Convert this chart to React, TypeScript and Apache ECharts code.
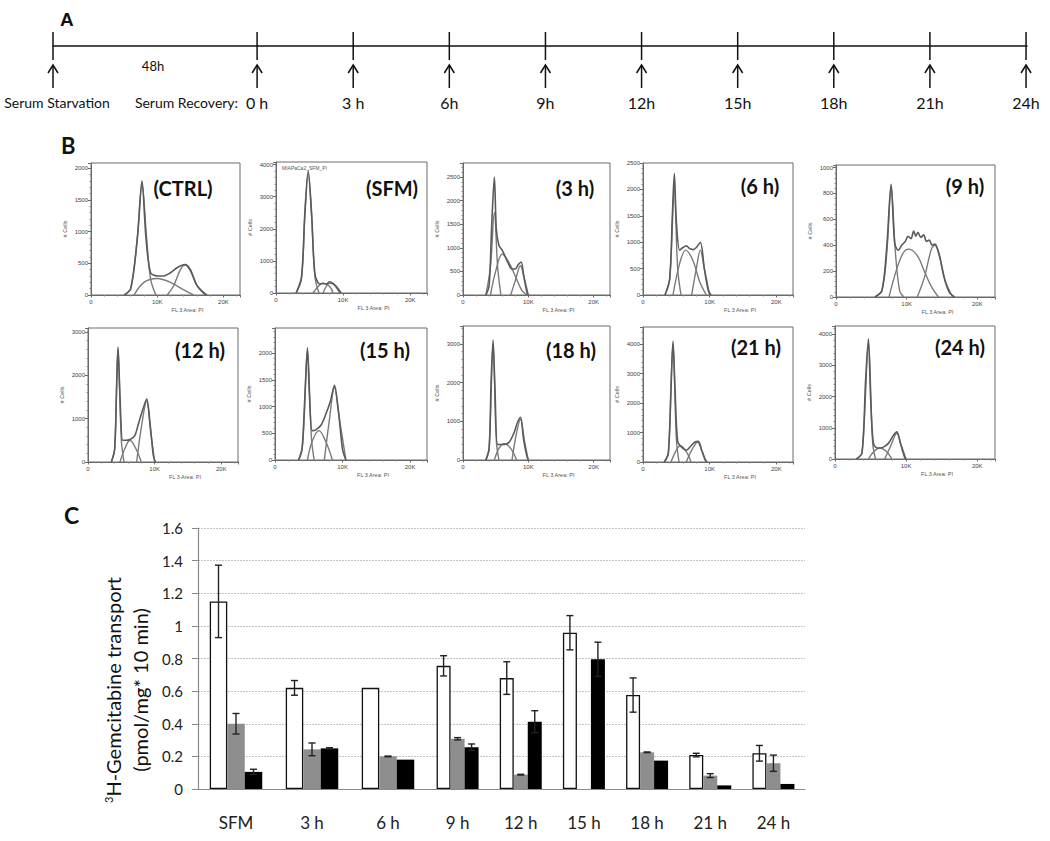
import React, { useEffect, useRef } from "react";
import * as echarts from "echarts";

// ---------------- Panel A : timeline ----------------
const timeHours = [0, 3, 6, 9, 12, 15, 18, 21, 24];
const timeLabels = ["0 h", "3 h", "6h", "9h", "12h", "15h", "18h", "21h", "24h"];
const starvationLabel = "Serum Starvation";
const recoveryLabel = "Serum Recovery:";
const starvationDuration = "48h";
const starvationAxisPos = -6.37; // schematic (compressed) start of the 48 h starvation

// ---------------- Panel B : DNA histograms ----------------
const panelNames = ["(CTRL)", "(SFM)", "(3 h)", "(6 h)", "(9 h)", "(12 h)", "(15 h)", "(18 h)", "(21 h)", "(24 h)"];
const yMaxes = [2080, 4080, 2800, 2500, 1020, 3090, 2470, 3460, 4580, 4260];
const yIntervals = [500, 1000, 500, 500, 200, 1000, 500, 1000, 1000, 1000];
const xTickLabels = ["0", "10K", "20K"];

const ctrlTotal = [[5,0],[6,100],[7,900],[7.7,1800],[8.3,900],[9,350],[10,300],[11,300],[12,350],[13,430],[14.2,480],[15,400],[16,150],[17,30],[17.5,0]];
const ctrlG1 = [[5,0],[6,100],[7,900],[7.7,1750],[8.4,900],[9,250],[9.8,0]];
const ctrlS = [[6.5,0],[8,200],[10,260],[12,200],[14,80],[15.5,0]];
const ctrlG2 = [[11.5,0],[12.5,150],[13.5,400],[14.2,470],[15,380],[16,150],[17.5,0]];

const sfmTotal = [[3,0],[3.8,500],[4.3,2500],[4.8,3800],[5.3,2500],[5.8,600],[6.5,280],[7,300],[7.5,280],[8,350],[8.5,300],[9,200],[9.7,0]];
const sfmG1 = [[3,0],[3.8,450],[4.3,2400],[4.8,3750],[5.3,2400],[5.8,500],[6.4,0]];
const sfmS = [[5.5,0],[6.5,250],[7,300],[8,200],[8.5,0]];
const sfmG2 = [[7,0],[8,300],[8.5,280],[9.5,0]];

const h3Total = [[3.5,0],[4,200],[4.4,1500],[4.8,2500],[5.1,1400],[5.5,1050],[6,950],[6.5,800],[7,650],[7.5,550],[8,550],[8.5,650],[8.9,700],[9.3,400],[9.8,50],[10,0]];
const h3G1 = [[3.5,0],[4.2,600],[4.8,1750],[5.3,600],[5.8,0]];
const h3S = [[4.2,0],[5,500],[6,870],[7,700],[8,400],[9,100],[9.8,0]];
const h3G2 = [[7.3,0],[8,300],[8.8,620],[9.3,400],[10,0]];

const h6Total = [[3.3,0],[4,300],[4.4,1500],[4.7,2300],[5,1400],[5.5,850],[6,900],[6.5,930],[7,880],[7.5,860],[8,900],[8.6,1000],[9.2,500],[9.8,80],[10.2,0]];
const h6G1 = [[3.3,0],[4,300],[4.7,2000],[5.2,500],[5.7,0]];
const h6S = [[4.5,0],[5.5,600],[6.4,850],[7.5,650],[8.5,250],[9.5,0]];
const h6G2 = [[7.3,0],[8,500],[8.6,850],[9.2,500],[10,0]];

const h9Total = [[5.5,0],[6.5,50],[7.2,400],[7.8,870],[8.3,420],[8.8,360],[9.3,400],[9.8,430],[10.2,470],[10.6,450],[11,510],[11.3,470],[11.6,500],[12,460],[12.4,480],[12.8,430],[13.2,440],[13.6,400],[14,410],[14.6,330],[15.3,150],[16,40],[16.8,0]];
const h9G1 = [[5.5,0],[6.5,50],[7.2,350],[7.8,850],[8.4,350],[9,50],[9.6,0]];
const h9S = [[7.5,0],[8.5,200],[9.5,340],[10.3,370],[11.5,320],[12.5,200],[13.5,80],[14.5,0]];
const h9G2 = [[11.5,0],[12.5,150],[13.5,370],[14,400],[14.7,300],[15.5,120],[16.5,0]];

const h12Total = [[3.5,0],[4,300],[4.3,1800],[4.5,2650],[4.8,1500],[5.2,500],[5.7,500],[6.3,520],[7,600],[7.6,900],[8.2,1200],[8.8,1450],[9.3,900],[9.8,150],[10.1,0]];
const h12G1 = [[3.5,0],[4,300],[4.5,2600],[5,500],[5.4,0]];
const h12S = [[4.8,0],[5.5,300],[6.3,500],[7.2,300],[8,0]];
const h12G2 = [[7.3,0],[8,800],[8.8,1400],[9.4,700],[10,0]];

const h15Total = [[3.5,0],[4,200],[4.5,1400],[4.8,2100],[5.1,1200],[5.5,550],[6,560],[6.8,650],[7.5,850],[8.2,1100],[8.8,1400],[9.4,900],[10,200],[10.5,0]];
const h15G1 = [[3.5,0],[4.1,300],[4.8,2050],[5.4,400],[5.8,0]];
const h15S = [[4.8,0],[5.5,350],[6.5,550],[7.5,350],[8.5,0]];
const h15G2 = [[7.3,0],[8,700],[8.8,1350],[9.5,800],[10.5,0]];

const h18Total = [[3.5,0],[4,300],[4.3,2000],[4.6,3100],[4.9,1800],[5.3,400],[6,400],[7,450],[7.8,700],[8.3,950],[8.8,1100],[9.3,500],[9.8,80],[10,0]];
const h18G1 = [[3.5,0],[4,300],[4.6,3000],[5.1,500],[5.5,0]];
const h18S = [[4.8,0],[5.5,300],[6.3,420],[7.3,300],[8.2,0]];
const h18G2 = [[7.5,0],[8.2,700],[8.8,1050],[9.4,500],[10,0]];

const h21Total = [[3.2,0],[3.8,300],[4.2,2500],[4.5,4100],[4.8,2500],[5.2,700],[5.8,500],[6.5,400],[7.2,550],[7.8,680],[8.3,700],[8.8,400],[9.3,80],[9.6,0]];
const h21G1 = [[3.2,0],[3.8,300],[4.5,4000],[5,800],[5.4,0]];
const h21S = [[4.2,0],[5,400],[5.6,550],[6.5,350],[7.2,0]];
const h21G2 = [[6.5,0],[7.3,400],[8.2,680],[8.8,400],[9.5,0]];

const h24Total = [[3,0],[3.8,200],[4.3,2500],[4.7,3850],[5,2000],[5.4,500],[6,350],[6.8,380],[7.5,500],[8.2,750],[8.7,870],[9.2,500],[9.8,50],[10,0]];
const h24G1 = [[3,0],[3.8,200],[4.7,3700],[5.3,500],[5.7,0]];
const h24S = [[4.7,0],[5.5,250],[6.3,350],[7.2,250],[8,0]];
const h24G2 = [[7,0],[7.8,400],[8.7,820],[9.3,450],[10,0]];

const histTotals = [ctrlTotal, sfmTotal, h3Total, h6Total, h9Total, h12Total, h15Total, h18Total, h21Total, h24Total];
const histG1 = [ctrlG1, sfmG1, h3G1, h6G1, h9G1, h12G1, h15G1, h18G1, h21G1, h24G1];
const histS = [ctrlS, sfmS, h3S, h6S, h9S, h12S, h15S, h18S, h21S, h24S];
const histG2 = [ctrlG2, sfmG2, h3G2, h6G2, h9G2, h12G2, h15G2, h18G2, h21G2, h24G2];

// ---------------- Panel C : transport bars ----------------
const categories = ["SFM", "3 h", "6 h", "9 h", "12 h", "15 h", "18 h", "21 h", "24 h"];
const whiteVals = [1.15, 0.62, 0.62, 0.755, 0.68, 0.958, 0.576, 0.208, 0.219];
const whiteErr = [0.222, 0.045, 0, 0.062, 0.1, 0.105, 0.105, 0.011, 0.048];
const grayVals = [0.4, 0.243, 0.2, 0.308, 0.088, null, 0.225, 0.082, 0.158];
const grayErr = [0.063, 0.039, 0.002, 0.007, 0.002, null, 0.002, 0.012, 0.05];
const blackVals = [0.105, 0.249, 0.18, 0.256, 0.413, 0.795, 0.174, 0.022, 0.031];
const blackErr = [0.016, 0.004, 0, 0.02, 0.067, 0.105, 0, 0, 0];
const yTicks = { min: 0, max: 1.6, interval: 0.2 };

// ---------------- layout (styles, not data) ----------------
const miniRects = [
  [91, 163, 149, 132], [276, 162, 151, 131], [463, 163, 147, 132], [643, 163, 150, 132], [836, 165, 159, 132],
  [88, 328, 150, 134], [275, 328, 152, 132], [463, 326, 147, 134], [643, 327, 150, 135], [835, 326, 160, 133],
];
const miniLabelPos = [
  [183, 188], [392, 188], [575, 188], [760, 186], [965, 186],
  [200, 350], [385, 350], [571, 350], [756, 347], [960, 347],
];
const X_MAX = 22.5;

export default function App() {
  const ref = useRef<HTMLDivElement>(null);
  useEffect(() => {
    if (!ref.current) return;
    const chart = echarts.init(ref.current, undefined, { renderer: "svg" });

    const grid: any[] = [];
    const xAxis: any[] = [];
    const yAxis: any[] = [];
    const series: any[] = [];
    const graphic: any[] = [];

    // ---- Panel A
    grid.push({ left: 53, top: 32, width: 974, height: 28 });
    xAxis.push({
      gridIndex: 0, type: "value", min: starvationAxisPos, max: 24.03,
      axisLine: { show: true, onZero: true, lineStyle: { color: "#111", width: 1.5 } },
      axisTick: { show: false }, axisLabel: { show: false }, splitLine: { show: false },
    });
    yAxis.push({ gridIndex: 0, type: "value", min: -1, max: 1, show: false });
    const tlData: any[] = [[starvationAxisPos, -1]].concat(timeHours.map((h, i) => [h, i]));
    series.push({
      type: "custom", xAxisIndex: 0, yAxisIndex: 0, data: tlData, silent: true,
      renderItem: (params: any, api: any) => {
        const x = api.value(0);
        const li = api.value(1);
        const top = api.coord([x, 1]);
        const bot = api.coord([x, -1]);
        const px = top[0];
        const stroke = { stroke: "#111", lineWidth: 1.5 };
        const children: any[] = [
          { type: "line", shape: { x1: px, y1: top[1], x2: px, y2: bot[1] }, style: stroke },
          { type: "line", shape: { x1: px, y1: bot[1] + 5, x2: px, y2: bot[1] + 28 }, style: stroke },
          { type: "polyline", shape: { points: [[px - 5, bot[1] + 13], [px, bot[1] + 5], [px + 5, bot[1] + 13]] }, style: { ...stroke, fill: null } },
        ];
        if (li < 0) {
          children.push({ type: "text", x: px + 4, y: bot[1] + 42, style: { text: starvationLabel, fontSize: 14, fontFamily: "Lato", fill: "#111", align: "center", verticalAlign: "middle" } });
          const mid = api.coord([starvationAxisPos / 2, -1]);
          children.push({ type: "text", x: mid[0] - 2, y: bot[1] + 6, style: { text: starvationDuration, fontSize: 13, fontFamily: "Lato", fill: "#111", align: "center", verticalAlign: "middle" } });
        } else {
          children.push({ type: "text", x: px, y: bot[1] + 42, style: { text: timeLabels[li], fontSize: 16, fontFamily: "Lato", fill: "#111", align: "center", verticalAlign: "middle" } });
          if (li === 0) {
            children.push({ type: "text", x: px - 19, y: bot[1] + 42, style: { text: recoveryLabel, fontSize: 14, fontFamily: "Lato", fill: "#111", align: "right", verticalAlign: "middle" } });
          }
        }
        return { type: "group", children };
      },
    });

    // ---- Panel B
    for (let i = 0; i < 10; i++) {
      const gi = i + 1;
      const [l, t, w, h] = miniRects[i];
      grid.push({ left: l, top: t, width: w, height: h, show: true, borderColor: "#6a6a6a", borderWidth: 1, backgroundColor: "transparent" });
      const interval = yIntervals[i];
      xAxis.push({
        gridIndex: gi, type: "value", min: 0, max: X_MAX, interval: 10,
        axisLine: { lineStyle: { color: "#6a6a6a" } },
        axisTick: { show: true, length: 2.5, lineStyle: { color: "#6a6a6a" } },
        minorTick: { show: true, splitNumber: 5, length: 1.5, lineStyle: { color: "#888" } },
        splitLine: { show: false },
        axisLabel: {
          fontSize: 6, color: "#444", margin: 4, fontFamily: "Liberation Sans",
          formatter: (v: number) => (Math.abs(v % 10) < 1e-6 ? xTickLabels[Math.round(v / 10)] || "" : ""),
        },
        name: "FL 3 Area: PI", nameLocation: "middle", nameGap: 12,
        nameTextStyle: { fontSize: 5.5, color: "#555", fontFamily: "Liberation Sans", padding: [0, 0, 0, 44] },
      });
      yAxis.push({
        gridIndex: gi, type: "value", min: 0, max: yMaxes[i], interval,
        axisLine: { show: true, lineStyle: { color: "#6a6a6a" } },
        axisTick: { show: true, length: 3, lineStyle: { color: "#6a6a6a" } },
        minorTick: { show: true, splitNumber: 5, length: 1.5, lineStyle: { color: "#888" } },
        splitLine: { show: false },
        axisLabel: {
          fontSize: 6, color: "#444", margin: 3, fontFamily: "Liberation Sans",
          formatter: (v: number) => (Math.abs(v % interval) < 1e-6 ? String(v) : ""),
        },
        name: "# Cells", nameLocation: "middle", nameGap: 23,
        nameTextStyle: { fontSize: 5.5, color: "#555", fontFamily: "Liberation Sans" },
      });
      const comps = [histG1[i], histS[i], histG2[i]];
      comps.forEach((d) => {
        series.push({
          type: "line", xAxisIndex: gi, yAxisIndex: gi, data: d, smooth: 0.35, symbol: "none", silent: true,
          lineStyle: { color: "#7a7a7a", width: 1.4 },
        });
      });
      series.push({
        type: "line", xAxisIndex: gi, yAxisIndex: gi, data: histTotals[i], smooth: 0.3, symbol: "none", silent: true,
        lineStyle: { color: "#5a5a5a", width: 1.6 },
      });
      const [cx, cy] = miniLabelPos[i];
      graphic.push({
        type: "text", x: cx, y: cy, z: 100,
        style: { text: panelNames[i], fontSize: 20, fontWeight: "bold", fontFamily: "Lato", fill: "#111", align: "center", verticalAlign: "middle" },
      });
    }
    graphic.push({
      type: "text", x: 282, y: 168,
      style: { text: "MIAPaCa2_SFM_PI", fontSize: 5, fontFamily: "Liberation Sans", fill: "#555", align: "left", verticalAlign: "middle" },
    });

    // ---- Panel C
    const leftN = 3;
    const parts = [
      { from: 0, to: leftN, left: 198, width: 228, bw: 17.5 },
      { from: leftN, to: categories.length, left: 426, width: 379, bw: 14 },
    ];
    parts.forEach((p, k) => {
      const gi = 11 + k;
      grid.push({ left: p.left, top: 528, width: p.width, height: 261 });
      xAxis.push({
        gridIndex: gi, type: "category", data: categories.slice(p.from, p.to),
        axisLine: { lineStyle: { color: "#8a8a8a", width: 1.2 } },
        axisTick: { show: false },
        axisLabel: { fontSize: 17, color: "#222", margin: 25, fontFamily: "Lato" },
      });
      yAxis.push({
        gridIndex: gi, type: "value", min: yTicks.min, max: yTicks.max, interval: yTicks.interval,
        axisLine: { show: k === 0, lineStyle: { color: "#8a8a8a", width: 1.2 } },
        axisTick: { show: k === 0, length: 6, lineStyle: { color: "#8a8a8a" } },
        axisLabel: { show: k === 0, fontSize: 15, color: "#222", margin: 15, fontFamily: "Lato" },
        splitLine: { show: true, lineStyle: { color: "#c4c4c4", type: [2, 1], width: 1 } },
      });
      const sets = [
        { vals: whiteVals, errs: whiteErr, color: "#ffffff", border: "#111", bwid: 1.3, off: -p.bw },
        { vals: grayVals, errs: grayErr, color: "#8e8e8e", border: "#8e8e8e", bwid: 0, off: 0 },
        { vals: blackVals, errs: blackErr, color: "#000000", border: "#000", bwid: 0, off: p.bw },
      ];
      sets.forEach((s) => {
        series.push({
          type: "bar", xAxisIndex: gi, yAxisIndex: gi, barWidth: p.bw, barGap: "0%", silent: true,
          data: s.vals.slice(p.from, p.to).map((v) => (v == null ? "-" : v)),
          itemStyle: { color: s.color, borderColor: s.border, borderWidth: s.bwid },
        });
      });
      sets.forEach((s) => {
        const d: any[] = [];
        for (let i = p.from; i < p.to; i++) {
          const v = s.vals[i];
          const e = s.errs[i];
          if (v == null || e == null || e <= 0) continue;
          d.push([i - p.from, v, e]);
        }
        const off = s.off;
        series.push({
          type: "custom", xAxisIndex: gi, yAxisIndex: gi, data: d, z: 10, silent: true,
          renderItem: (params: any, api: any) => {
            const idx = api.value(0);
            const v = api.value(1);
            const e = api.value(2);
            const hi = api.coord([idx, v + e]);
            const lo = api.coord([idx, v - e]);
            const x = hi[0] + off;
            const st = { stroke: "#222", lineWidth: 1.4 };
            return {
              type: "group",
              children: [
                { type: "line", shape: { x1: x, y1: hi[1], x2: x, y2: lo[1] }, style: st },
                { type: "line", shape: { x1: x - 3.5, y1: hi[1], x2: x + 3.5, y2: hi[1] }, style: st },
                { type: "line", shape: { x1: x - 3.5, y1: lo[1], x2: x + 3.5, y2: lo[1] }, style: st },
              ],
            };
          },
        });
      });
    });

    graphic.push({
      type: "text", x: 126, y: 690, rotation: Math.PI / 2,
      style: {
        text: "{sup|3}{t|H-Gemcitabine transport}\n{t|(pmol/mg* 10 min)}",
        fontFamily: "Lato", fill: "#111", align: "center", verticalAlign: "middle",
        rich: {
          sup: { fontSize: 11, fontFamily: "Lato", fill: "#111", padding: [0, 0, 9, 0], lineHeight: 27 },
          t: { fontSize: 20, fontFamily: "Lato", fill: "#111", lineHeight: 27 },
        },
      },
    });

    // panel letters
    graphic.push({ type: "text", x: 60, y: 19, style: { text: "A", fontSize: 19, fontWeight: "bold", fontFamily: "Liberation Sans", fill: "#111", align: "left", verticalAlign: "middle" } });
    graphic.push({ type: "text", x: 61, y: 145, style: { text: "B", fontSize: 22, fontWeight: "bold", fontFamily: "Lato", fill: "#111", align: "left", verticalAlign: "middle" } });
    graphic.push({ type: "text", x: 64, y: 515, style: { text: "C", fontSize: 23, fontWeight: "bold", fontFamily: "Lato", fill: "#111", align: "left", verticalAlign: "middle" } });

    chart.setOption({
      animation: false,
      backgroundColor: "#ffffff",
      textStyle: { fontFamily: "Lato" },
      grid, xAxis, yAxis, series, graphic,
    });
    return () => chart.dispose();
  }, []);
  return <div ref={ref} style={{ position: "absolute", left: 0, top: 0, width: 1050, height: 841 }} />;
}
